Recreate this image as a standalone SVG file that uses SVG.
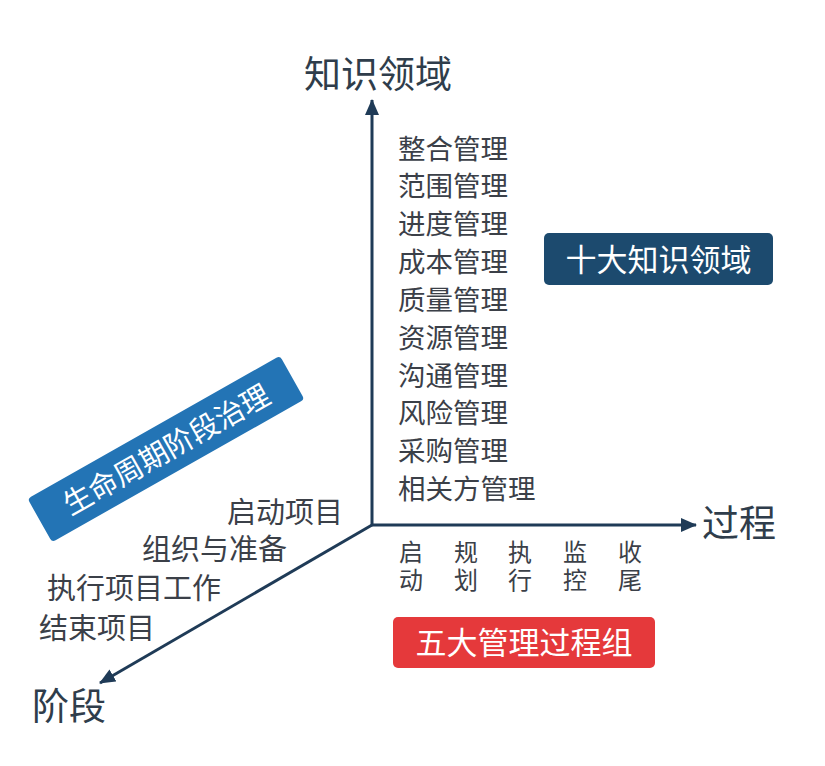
<svg xmlns="http://www.w3.org/2000/svg" width="825" height="766" viewBox="0 0 825 766">
<style>
text{font-family:"Noto Sans CJK SC","Noto Sans",sans-serif;dominant-baseline:central}
.ax{font-size:37px;fill:#2f3d4b}
.li{font-size:27.5px;fill:#3b4048}
.st{font-size:29px;fill:#3b4048}
.pg{font-size:24px;fill:#3b4048;text-anchor:middle}
.bt{font-size:31px;fill:#ffffff;text-anchor:middle}
.axis{stroke:#1f3b57;stroke-width:3;fill:none}
</style>
<defs>
<marker id="ah" markerWidth="16" markerHeight="14" refX="15" refY="7" orient="auto" markerUnits="userSpaceOnUse">
<path d="M0,0 L16,7 L0,14 Z" fill="#1f3b57"/>
</marker>
</defs>
<rect width="825" height="766" fill="#ffffff"/>
<g id="connectors">
<line class="axis" x1="372" y1="526" x2="372" y2="100" marker-end="url(#ah)"/>
<line class="axis" x1="371" y1="525" x2="696" y2="525" marker-end="url(#ah)"/>
<line class="axis" x1="372" y1="525" x2="100" y2="683" marker-end="url(#ah)"/>
</g>
<g id="axis-knowledge"><text class="ax" x="304" y="72">知识领域</text></g>
<g id="axis-process"><text class="ax" x="702" y="521">过程</text></g>
<g id="axis-phase"><text class="ax" x="32" y="704">阶段</text></g>
<g id="knowledge-list">
<text class="li" x="398" y="147">整合管理</text>
<text class="li" x="398" y="184">范围管理</text>
<text class="li" x="398" y="222">进度管理</text>
<text class="li" x="398" y="260">成本管理</text>
<text class="li" x="398" y="298">质量管理</text>
<text class="li" x="398" y="336">资源管理</text>
<text class="li" x="398" y="374">沟通管理</text>
<text class="li" x="398" y="411">风险管理</text>
<text class="li" x="398" y="449">采购管理</text>
<text class="li" x="398" y="487">相关方管理</text>
</g>
<g id="badge-knowledge">
<rect x="544" y="233" width="229" height="52" rx="5" fill="#1c4a6e"/>
<text class="bt" x="658.5" y="257">十大知识领域</text>
</g>
<g id="process-groups">
<text class="pg"><tspan x="411" y="550">启</tspan><tspan x="411" y="578">动</tspan></text>
<text class="pg"><tspan x="466" y="550">规</tspan><tspan x="466" y="578">划</tspan></text>
<text class="pg"><tspan x="520" y="550">执</tspan><tspan x="520" y="578">行</tspan></text>
<text class="pg"><tspan x="575" y="550">监</tspan><tspan x="575" y="578">控</tspan></text>
<text class="pg"><tspan x="630" y="550">收</tspan><tspan x="630" y="578">尾</tspan></text>
</g>
<g id="badge-process">
<rect x="393" y="617" width="262" height="51" rx="5" fill="#e5393b"/>
<text class="bt" x="524" y="640">五大管理过程组</text>
</g>
<g id="phase-list">
<text class="st" x="227" y="510">启动项目</text>
<text class="st" x="142" y="547">组织与准备</text>
<text class="st" x="47" y="586">执行项目工作</text>
<text class="st" x="39" y="626">结束项目</text>
</g>
<g id="badge-lifecycle" transform="translate(166,449) rotate(-29.5)">
<rect x="-145" y="-25" width="290" height="50" rx="4" fill="#2374b5"/>
<text class="bt" x="0" y="-2" style="font-size:29px">生命周期阶段治理</text>
</g>
</svg>
